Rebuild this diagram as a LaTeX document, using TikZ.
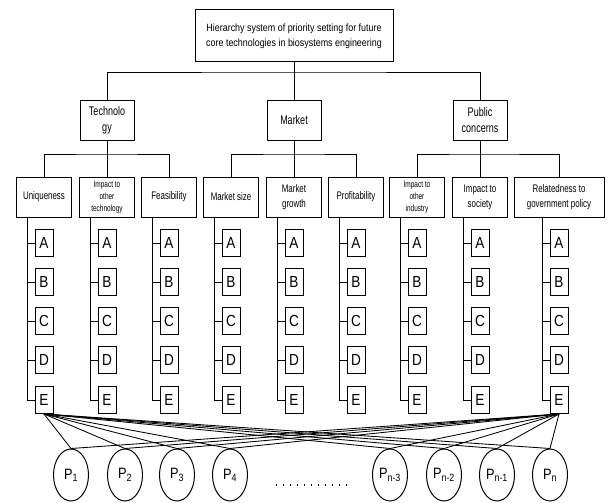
\documentclass[tikz,border=0pt]{standalone}
\usepackage{fontspec}
\setmainfont{Liberation Sans}
\newfontfamily\nf[FakeStretch=0.72]{Liberation Sans}
\newfontfamily\nfw[FakeStretch=0.85]{Liberation Sans}
\usetikzlibrary{shapes.geometric}
\begin{document}
\begin{tikzpicture}[x=1pt,y=-1pt,
  line width=0.9pt,
  box/.style={draw, line width=1pt, align=center, inner sep=1pt},
  topbox/.style={box, minimum width=198pt, minimum height=52pt, font=\nfw\fontsize{10.5}{15}\selectfont},
  catbox/.style={box, minimum width=54pt, minimum height=40pt, font=\nf\fontsize{12.5}{16}\selectfont},
  critbox/.style={box, minimum width=55pt, minimum height=40pt, font=\nf\fontsize{11}{15}\selectfont},
  smallcrit/.style={critbox, font=\nf\fontsize{9}{12}\selectfont},
  letterbox/.style={draw, line width=1pt, minimum width=18pt, minimum height=27pt, inner sep=0pt, font=\nfw\fontsize{16}{16}\selectfont},
  pnode/.style={draw, ellipse, line width=1pt, minimum width=35pt, minimum height=52pt, inner sep=0pt, font=\nfw\fontsize{15}{15}\selectfont},
  link/.style={line width=0.85pt}
]
\useasboundingbox (0,0) rectangle (608,503);

\node[topbox] (top) at (294,36) {Hierarchy system of priority setting for future\\core technologies in biosystems engineering};

\node[catbox] (tech) at (107,120) {Technolo\\gy};
\node[catbox] (mkt) at (294,120) {Market};
\node[catbox] (pub) at (480,120) {Public\\concerns};

\coordinate (b0) at (294,72);
\draw (top.south) -- (b0);
\draw (tech.north) |- (b0) -| (pub.north);
\draw (b0) -- (mkt.north);

\node[critbox] (c1) at (44,197) {Uniqueness};
\node[smallcrit] (c2) at (107,197) {Impact to\\other\\technology};
\node[critbox] (c3) at (169,197) {Feasibility};
\node[critbox] (c4) at (231,197) {Market size};
\node[critbox] (c5) at (294,197) {Market\\growth};
\node[critbox] (c6) at (356,197) {Profitability};
\node[smallcrit] (c7) at (417,197) {Impact to\\other\\industry};
\node[critbox] (c8) at (480,197) {Impact to\\society};
\node[critbox, minimum width=90pt] (c9) at (559,197) {Relatedness to\\government policy};

\coordinate (t1) at (107,154);
\coordinate (m1) at (294,154);
\coordinate (p1b) at (480,154);
\draw (tech.south) -- (t1);
\draw (c1.north) |- (t1) -| (c3.north);
\draw (t1) -- (c2.north);
\draw (mkt.south) -- (m1);
\draw (c4.north) |- (m1) -| (c6.north);
\draw (m1) -- (c5.north);
\draw (pub.south) -- (p1b);
\draw (c7.north) |- (p1b) -| (c9.north);
\draw (p1b) -- (c8.north);

\foreach \i/\x in {1/44,2/107,3/169,4/231,5/294,6/356,7/417,8/480,9/559} {
  \foreach \L/\y in {A/243,B/282,C/321,D/360,E/400} {
    \node[letterbox] (\L\i) at (\x,\y) {\L};
  }
  \coordinate (v\i) at ([xshift=-17pt]c\i.south);
  \draw (v\i) |- (E\i.west);
  \foreach \L in {A,B,C,D} {
    \draw (\L\i.west) -- (\L\i.west -| v\i);
  }
}

\foreach \k/\x/\t in {1/71/1,2/125/2,3/177/3,4/230/4,5/390/n-3,6/444/n-2,7/497/n-1,8/550/n} {
  \node[pnode] (p\k) at (\x,475) {P\textsubscript{\t}};
}

\coordinate (d1) at (276,485);
\coordinate (d2) at (349,485);
\draw[line width=1.3pt, dash pattern=on 1.4pt off 5.6pt] (d1) -- (d2);

\foreach \k in {1,...,8} {
  \draw[link] (E1.south) -- (p\k.north);
  \draw[link] (E9.south) -- (p\k.north);
}
\end{tikzpicture}
\end{document}
